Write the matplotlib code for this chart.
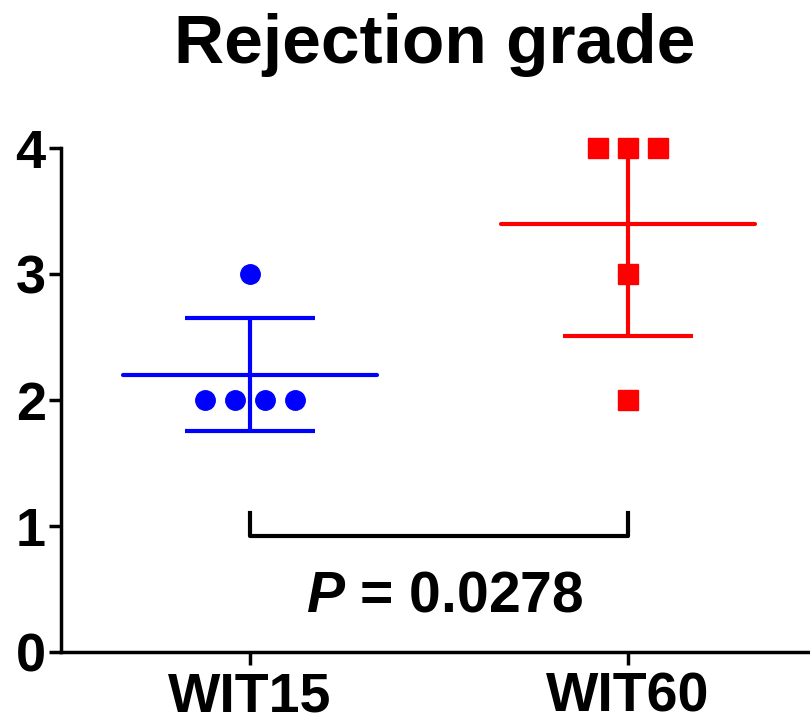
import numpy as np
import matplotlib
matplotlib.use('Agg')
import matplotlib.pyplot as plt

# data
groups = ['WIT15', 'WIT60']
wit15 = [3, 2, 2, 2, 2]
wit60 = [4, 4, 4, 3, 2]
y_ticks = [0, 1, 2, 3, 4]
p_text = r'$P$ = 0.0278'
title = 'Rejection grade'

plt.rcParams['font.family'] = ['Liberation Sans', 'DejaVu Sans']
plt.rcParams['font.weight'] = 'bold'
plt.rcParams['mathtext.fontset'] = 'custom'
plt.rcParams['mathtext.it'] = 'Liberation Sans:bold:italic'
plt.rcParams['mathtext.rm'] = 'Liberation Sans:bold'


def swarm_offsets(values, step=0.08):
    # spread equal values side by side, centred on the group
    values = np.asarray(values)
    offs = np.zeros(len(values))
    for v in np.unique(values):
        idx = np.where(values == v)[0]
        n = len(idx)
        offs[idx] = (np.arange(n) - (n - 1) / 2) * step
    return offs


fig = plt.figure(figsize=(8.1, 7.26), dpi=100)
ax = fig.add_axes([61/810, 74/726, 756/810, 504/726])

colors = ['#0000FF', '#FF0000']
markers = ['o', 's']
msizes = [14, 15]
for i, (vals, c, m, ms) in enumerate(zip([wit15, wit60], colors, markers, msizes)):
    x = i + 1
    mean = np.mean(vals)
    sd = np.std(vals, ddof=1)
    ax.hlines(mean, x - 0.337, x + 0.337, color=c, lw=3, capstyle='round', zorder=2)
    ax.errorbar(x, mean, yerr=sd, fmt='none', ecolor=c, elinewidth=3,
                capsize=47, capthick=3, zorder=2)
    ax.plot(x + swarm_offsets(vals), vals, ls='none', marker=m, ms=ms,
            color=c, mec=c, clip_on=False, zorder=3)

# significance bracket
ax.plot([1, 1, 2, 2], [1.1, 0.92, 0.92, 1.1], color='black', lw=3, clip_on=False)
ax.text(1.516, 0.325, p_text, ha='center', va='baseline', fontsize=41, fontweight='bold')

ax.set_xlim(0.5, 2.5)
ax.set_ylim(0, 4)
ax.set_xticks([1, 2])
ax.set_xticklabels(groups)
ax.set_yticks(y_ticks)
ax.tick_params(axis='both', labelsize=39, width=2.5, length=9, color='black')
ax.tick_params(axis='y', pad=2)
ax.tick_params(axis='x', pad=5)
ax.tick_params(axis='x', labelsize=40)
for s in ['top', 'right']:
    ax.spines[s].set_visible(False)
for s in ['left', 'bottom']:
    ax.spines[s].set_linewidth(2.5)

fig.text(0.537, (726 - 63) / 726, title, ha='center', va='baseline',
         fontsize=50, fontweight='bold')

fig.savefig('out.png', dpi=100)
